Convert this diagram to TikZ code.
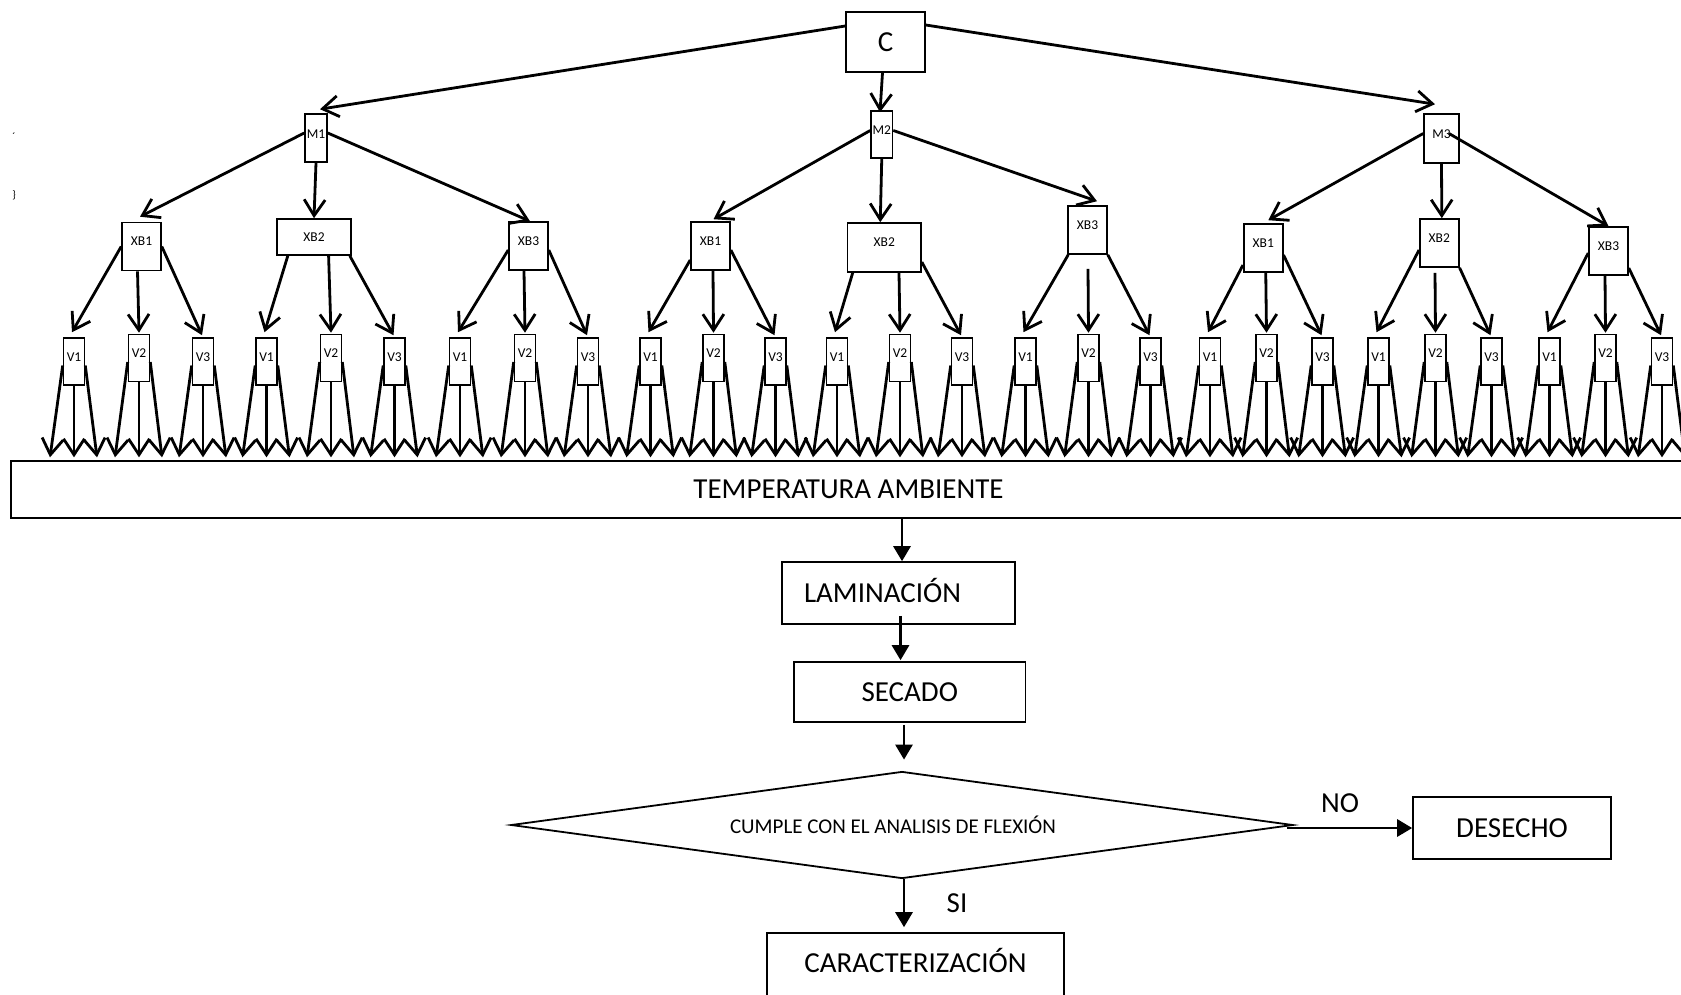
\documentclass[tikz,border=0pt]{standalone}
\usepackage{fontspec}
\setmainfont{Carlito}
\usetikzlibrary{arrows.meta,calc,shapes.geometric}
\begin{document}
\begin{tikzpicture}[x=1pt,y=-1pt,
  box/.style={draw, line width=1.6pt, inner sep=0pt},
  bigtxt/.style={font=\fontsize{29}{34}\selectfont},
  big/.style={box, bigtxt, text height=18.3pt, text depth=0pt},
  mbox/.style={box, font=\fontsize{13.5}{15}\selectfont, text height=8pt, text depth=8pt},
  xbox/.style={box, font=\fontsize{13.5}{15}\selectfont, text height=8pt, text depth=10pt, minimum width=39pt, minimum height=48pt},
  xwide/.style={box, font=\fontsize{13.5}{15}\selectfont, text height=8pt, text depth=0pt},
  vbox/.style={box, font=\fontsize{13.5}{15}\selectfont, text height=8pt, text depth=8.5pt, minimum width=21pt, minimum height=47pt},
  tarr/.style={line width=2.8pt, -{Straight Barb[length=16pt,width=21pt]}},
  farr/.style={line width=2.8pt, -{Triangle[length=15pt,width=17pt]}},
]
\useasboundingbox (0,0) rectangle (1681,994);

% stray marks
\node[font=\fontsize{11}{13}\selectfont, inner sep=0pt] (s1) at (14,137) {´};
\node[font=\fontsize{11}{13}\selectfont, inner sep=0pt] (s2) at (14,195) {\}};

% big band
\node[box, line width=1.4pt, bigtxt, text height=18.3pt, text depth=0pt,
      minimum width=1675pt, minimum height=57pt] (temp) at (848.5,489.5) {TEMPERATURA AMBIENTE};

% V level
\foreach \n/\x/\k in {1/74/1,2/139/2,3/203/3,4/266.5/1,5/331/2,6/394.5/3,7/460/1,8/525/2,9/588/3,
  10/650.5/1,11/713.5/2,12/775.5/3,13/837/1,14/900/2,15/962/3,16/1025.5/1,17/1088.5/2,18/1150.5/3,
  19/1210/1,20/1266.5/2,21/1322.5/3,22/1378.5/1,23/1435.5/2,24/1491.5/3,25/1549.5/1,26/1605.5/2,27/1662/3}{
  \ifnum\k=2 \def\vy{358}\else\def\vy{361.5}\fi
  \node[vbox] (v\n) at (\x,\vy) {V\k};
  \draw[tarr] ($(v\n.west)+(0,4)$) -- ($(v\n.south |- temp.north)+(-24,-3)$);
  \draw[tarr] (v\n.south) -- ($(v\n.south |- temp.north)+(0,-3)$);
  \draw[tarr] ($(v\n.east)+(0,4)$) -- ($(v\n.south |- temp.north)+(23,-3)$);
}

% top
\node[big, minimum width=79pt, minimum height=60pt] (C) at (885.5,42) {C};
\node[mbox, minimum width=22pt, minimum height=48pt] (m1) at (316,138) {M1};
\node[mbox, minimum width=21.5pt, minimum height=47pt] (m2) at (881.75,134.5) {M2};
\node[mbox, minimum width=35pt, minimum height=49pt] (m3) at (1441.5,138.5) {M3};

% XB level
\node[xbox] (xb1) at (141.5,246.5) {XB1};
\node[xwide, minimum width=74pt, minimum height=36pt] (xb2) at (314,237) {XB2};
\node[xbox] (xb3) at (528.5,246) {XB3};
\node[xbox] (xb4) at (710.5,246) {XB1};
\node[xbox, minimum width=73.5pt, minimum height=49pt] (xb5) at (884.25,247.5) {XB2};
\node[xbox] (xb6) at (1087.5,230) {XB3};
\node[xbox] (xb7) at (1263.25,248) {XB1};
\node[xbox] (xb8) at (1439.3,243) {XB2};
\node[xbox] (xb9) at (1608.5,251) {XB3};

% C -> M
\draw[tarr] ($(C.west)+(0,-16)$) -- ($(m1.north)+(4,-4)$);
\draw[tarr] ($(C.south)+(-3,0)$) -- ($(m2.north)+(-1.75,2)$);
\draw[tarr] ($(C.east)+(0,-17)$) -- ($(m3.north)+(-6.5,-9)$);

% M -> XB
\draw[tarr] ($(m1.west)+(0,-5)$) -- ($(xb1.north)+(-1.5,-5)$);
\draw[tarr] (m1.south) -- (xb2.north);
\draw[tarr] ($(m1.east)+(0,-5)$) -- ($(xb3.north)+(1.5,0)$);
\draw[tarr] ($(m2.west)+(0,-4)$) -- ($(xb4.north)+(3,-2)$);
\draw[tarr] (m2.south) -- ($(xb5.north)+(-4,0)$);
\draw[tarr] ($(m2.east)+(0,-4)$) -- ($(xb6.north)+(9.5,-4)$);
\draw[tarr] ($(m3.west)+(0,-5)$) -- ($(xb7.north)+(5,-3)$);
\draw[tarr] (m3.south) -- ($(xb8.north)+(2.5,0)$);
\draw[tarr] ($(m3.center)+(7.5,-5)$) -- (xb9.north);

% XB -> V
\draw[tarr] (xb1.west) -- ($(v1.north)+(-2,-5)$);
\draw[tarr] ($(xb1.south)+(-4,0)$) -- ($(v2.north)+(0,-1)$);
\draw[tarr] (xb1.east) -- ($(v3.north)+(-1,-2)$);
\draw[tarr] ($(xb2.south west)+(11.6,0)$) -- ($(v4.north)+(-2,-5)$);
\draw[tarr] ($(xb2.south)+(14.6,0)$) -- ($(v5.north)+(0,-1)$);
\draw[tarr] ($(xb2.south east)+(-2,0)$) -- ($(v6.north)+(-1,-2)$);
\draw[tarr] ($(xb3.west)+(0,4)$) -- ($(v7.north)+(-2,-5)$);
\draw[tarr] ($(xb3.south)+(-4.5,0)$) -- ($(v8.north)+(0,-1)$);
\draw[tarr] ($(xb3.east)+(0,4)$) -- ($(v9.north)+(-1,-2)$);
\draw[tarr] ($(xb4.west)+(0,14)$) -- ($(v10.north)+(-2,-5)$);
\draw[tarr] ($(xb4.south)+(2.5,0)$) -- ($(v11.north)+(0,-1)$);
\draw[tarr] ($(xb4.east)+(0,4)$) -- ($(v12.north)+(-1,-2)$);
\draw[tarr] ($(xb5.south west)+(6,0)$) -- ($(v13.north)+(-2,-5)$);
\draw[tarr] ($(xb5.south)+(14.75,0)$) -- ($(v14.north)+(0,-1)$);
\draw[tarr] ($(xb5.east)+(0,14.5)$) -- ($(v15.north)+(-1,-2)$);
\draw[tarr] ($(xb6.south west)+(1,0)$) -- ($(v16.north)+(-2,-5)$);
\draw[tarr] ($(xb6.south)+(0.5,14)$) -- ($(v17.north)+(0,-1)$);
\draw[tarr] (xb6.south east) -- ($(v18.north)+(-1,-2)$);
\draw[tarr] ($(xb7.west)+(0,17)$) -- ($(v19.north)+(-2,-5)$);
\draw[tarr] ($(xb7.south)+(2.5,0)$) -- ($(v20.north)+(0,-1)$);
\draw[tarr] ($(xb7.east)+(0,7)$) -- ($(v21.north)+(-1,-2)$);
\draw[tarr] ($(xb8.west)+(0,7)$) -- ($(v22.north)+(-2,-5)$);
\draw[tarr] ($(xb8.south)+(-4.3,5)$) -- ($(v23.north)+(0,-1)$);
\draw[tarr] (xb8.south east) -- ($(v24.north)+(-1,-2)$);
\draw[tarr] ($(xb9.west)+(0,2)$) -- ($(v25.north)+(-2,-5)$);
\draw[tarr] ($(xb9.south)+(-3.5,0)$) -- ($(v26.north)+(0,-1)$);
\draw[tarr] ($(xb9.east)+(0,17)$) -- ($(v27.north)+(-1,-2)$);

% lower flow
\node[box, bigtxt, text height=18.3pt, text depth=0pt, minimum height=62pt,
      text width=189pt, align=left, inner xsep=22pt] (lam) at (898.5,593) {LAMINACIÓN};
\node[big, minimum width=231.5pt, minimum height=60pt] (sec) at (909.75,692) {SECADO};
\node[draw, diamond, line width=1.8pt, shape aspect=7.3, inner sep=0pt,
      minimum width=782pt, minimum height=107pt,
      font=\fontsize{21}{25}\selectfont] (dia) at (902,825) {\hspace*{-18pt}CUMPLE CON EL ANALISIS DE FLEXIÓN};
\node[big, minimum width=297pt, minimum height=65pt, text depth=5pt] (car) at (915.5,965.5) {CARACTERIZACIÓN};
\node[big, minimum width=198pt, minimum height=62pt] (des) at (1512,828) {DESECHO};
\node[bigtxt] (no) at (1340,803) {NO};
\node[bigtxt] (si) at (957,903) {SI};

\draw[farr] ($(lam.north |- temp.south)+(3.5,0)$) -- ($(lam.north)+(3.5,0)$);
\draw[farr] ($(lam.south)+(2,-9)$) -- ($(sec.north -| lam.south)+(2,-1)$);
\draw[farr] ($(sec.south)+(-5.75,2)$) -- ($(dia.north)+(2,-11)$);
\draw[farr] ($(dia.south)+(2,0)$) -- ($(car.north)+(-11.5,-5)$);
\draw[farr] ($(dia.east)+(-7,3)$) -- (des.west);
\end{tikzpicture}
\end{document}
